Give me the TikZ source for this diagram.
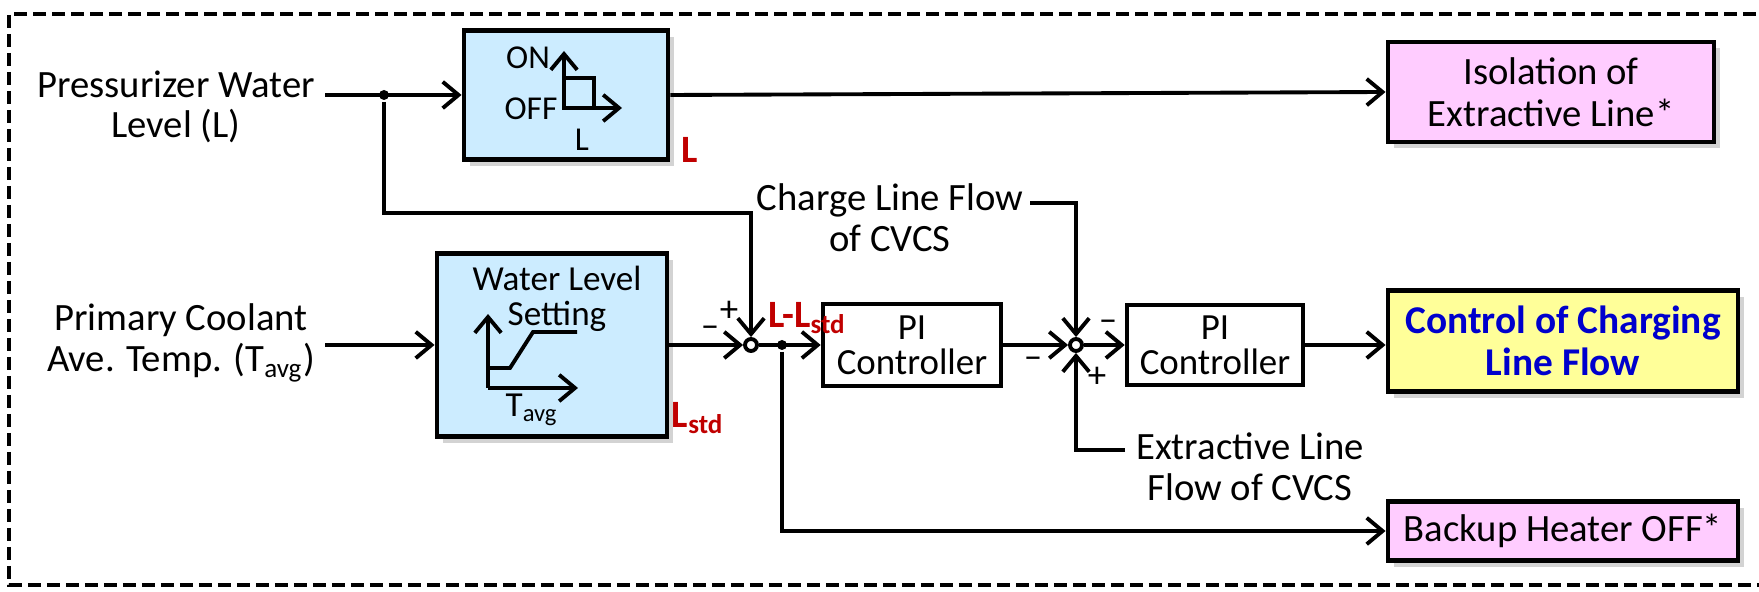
\documentclass[tikz,border=0pt]{standalone}
\usepackage{fontspec}
\setmainfont{Carlito}
\usetikzlibrary{arrows.meta,shadows}
\definecolor{boxblue}{RGB}{204,236,255}
\definecolor{boxpink}{RGB}{255,204,255}
\definecolor{boxyellow}{RGB}{255,255,153}
\definecolor{txtblue}{RGB}{0,0,204}
\definecolor{lblred}{RGB}{192,0,0}
\begin{document}
\begin{tikzpicture}[x=0.1mm, y=-0.1mm, line width=1.1pt,
    >={Straight Barb[length=4.5pt,width=7.5pt,line width=1.1pt]},
    every node/.style={font=\fontsize{11}{11.6}\selectfont, align=center, inner sep=1pt},
    blk/.style={draw, line width=1.4pt, drop shadow={shadow xshift=1.8pt, shadow yshift=-1.8pt, opacity=0.35}},
    pibox/.style={draw, fill=white, line width=1.3pt, font=\fontsize{10.5}{10}\selectfont},
    sumpt/.style={circle, draw, fill=white, inner sep=0pt, minimum size=1.2mm},
    dotpt/.style={circle, fill, inner sep=0pt, minimum size=1mm},
    small/.style={font=\fontsize{9.5}{10}\selectfont},
    sgn/.style={font=\fontsize{10.5}{10}\selectfont},
    redlbl/.style={text=lblred, font=\fontsize{11}{11}\selectfont\bfseries}]
    \useasboundingbox (0,0) rectangle (1759,592);

    % Frame
    \draw[line width=1.4pt, dash pattern=on 1.3mm off 0.6mm] (1775,14) -- (9,14) -- (9,585) -- (1775,585);

    % Inputs
    \node (lvl) at (176,107) {Pressurizer Water\\Level (L)};
    \node (cool) at (181,343) {Primary Coolant\\Ave. Temp. (T\textsubscript{avg})};
    \node (chg) at (890,218) {Charge Line Flow\\of CVCS};
    \node (ext) at (1250,467) {Extractive Line\\Flow of CVCS};
    \coordinate (lvlout) at (325,95);
    \coordinate (coolout) at (325,345);
    \coordinate (fbk) at (751,213);
    \coordinate (chgout) at (1030,203);
    \coordinate (extout) at (1125,450);

    % Blocks
    \node[blk, fill=boxblue, minimum width=20.4mm, minimum height=12.9mm] (hyst) at (566,95) {};
    \node[blk, fill=boxblue, minimum width=23mm, minimum height=18.3mm] (wls) at (552,345) {};
    \node[pibox, minimum width=17.8mm, minimum height=8.2mm] (pia) at (912,345) {PI\\Controller};
    \node[pibox, minimum width=17.6mm, minimum height=8mm] (pib) at (1215,345) {PI\\Controller};
    \node[blk, fill=boxpink, minimum width=32.6mm, minimum height=10mm, font=\fontsize{11}{12}\selectfont] (iso) at (1551,92) {Isolation of\\Extractive Line*};
    \node[blk, fill=boxyellow, minimum width=35mm, minimum height=10.1mm, text=txtblue, font=\fontsize{11.2}{12}\selectfont\bfseries] (ctrl) at (1563,341) {Control of Charging\\Line Flow};
    \node[blk, fill=boxpink, minimum width=35mm, minimum height=5.9mm] (heat) at (1563,531) {Backup Heater OFF*};

    % Hysteresis symbol
    \draw[->] (564,108) -- (564,51);
    \draw (564,78) rectangle (594,108);
    \draw[->] (564,108) -- (622,108);
    \node[small] (on) at (528,58) {ON};
    \node[small] (off) at (531,109) {OFF};
    \node[small] (hl) at (582,140) {L};

    % Level setting curve
    \node[small, font=\fontsize{10}{10}\selectfont] (wlt) at (557,299) {Water Level\\Setting};
    \draw[->] (488,388) -- (488,314);
    \draw[->] (488,388) -- (578,388);
    \draw (488,368) -- (510,368) -- (533,332) -- (577,332);
    \node[small, font=\fontsize{10}{10}\selectfont] (tav) at (532,410) {T\textsubscript{avg}};

    % Summing points
    \node[sumpt] (sum1) at (751,345) {};
    \node[sumpt] (sum2) at (1076,345) {};
    \node[dotpt] (br1) at (384,95) {};
    \node[dotpt] (br2) at (782,345) {};

    % Signal lines
    \draw[->] (lvlout) -- (hyst.west);
    \draw[->] (hyst.east) -- (iso.west);
    \draw[->] (br1) |- (fbk) -- (sum1.north);
    \draw[->] (coolout) -- (wls.west);
    \draw[->] (wls.east) -- (sum1.west);
    \draw[->] (sum1.east) -- (pia.west);
    \draw[->] (br2) |- (heat.west);
    \draw[->] (pia.east) -- (sum2.west);
    \draw[->] (chgout) -| (sum2.north);
    \draw[->] (extout) -| (sum2.south);
    \draw[->] (sum2.east) -- (pib.west);
    \draw[->] (pib.east) -- (pib.east -| ctrl.west);

    % Signs and labels
    \node[sgn] (s1p) at (729,311) {+};
    \node[sgn] (s1m) at (710,332) {\textendash};
    \node[sgn] (s2a) at (1033,363) {\textendash};
    \node[sgn] (s2b) at (1108,326) {\textendash};
    \node[sgn] (s2c) at (1097,377) {+};
    \node[redlbl, anchor=west] (dev) at (763,318) {L-L\textsubscript{std}};
    \node[redlbl] (lstd) at (698,418) {L\textsubscript{std}};
    \node[redlbl] (lred) at (690,150) {L};
\end{tikzpicture}
\end{document}
